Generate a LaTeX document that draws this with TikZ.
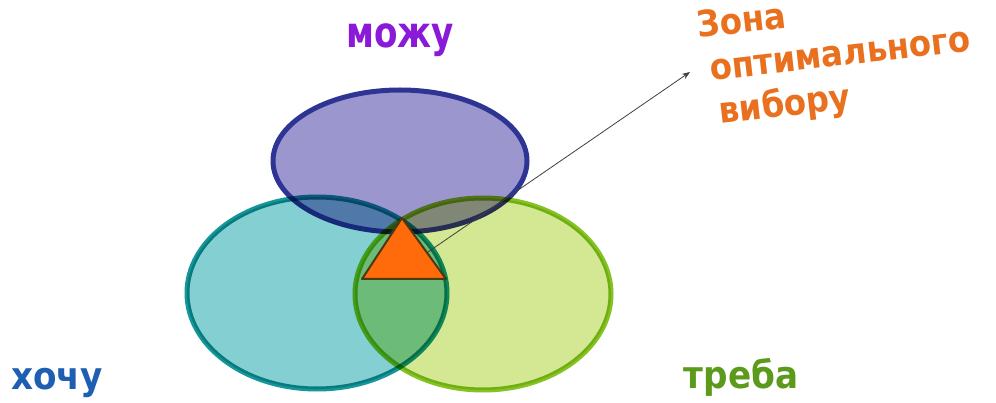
\documentclass[tikz,border=0pt]{standalone}
\usepackage{fontspec}
\usepackage{graphicx}
\setmainfont{DejaVu Sans}
\newfontfamily\heavy{DejaVu Sans Condensed}[BoldFont={DejaVu Sans Condensed Bold}]
\usetikzlibrary{arrows.meta}
\definecolor{topfill}{HTML}{9C96CE}
\definecolor{topline}{HTML}{2E3494}
\definecolor{leftfill}{HTML}{6EC7CB}
\definecolor{leftline}{HTML}{13979A}
\definecolor{rightfill}{HTML}{CAE178}
\definecolor{rightline}{HTML}{86C222}
\definecolor{triorange}{HTML}{FF6A0A}
\definecolor{triline}{HTML}{4A3A10}
\definecolor{zonaorange}{HTML}{E8701E}
\definecolor{mozhu}{HTML}{8A1AD8}
\definecolor{khochu}{HTML}{1E5FB2}
\definecolor{treba}{HTML}{5C9A1C}
\tikzset{
  vennring/.style={line width=5pt},
  lbl/.style={font=\heavy\bfseries\fontsize{38}{38}\selectfont, inner sep=0pt, anchor=base},
  zonatext/.style={font=\heavy\bfseries\fontsize{36}{44}\selectfont, text=zonaorange, inner sep=0pt, anchor=north west, align=left, rotate=6.5},
}
\begin{document}
\begin{tikzpicture}[x=1pt,y=-1pt]
\useasboundingbox (0,0) rectangle (996,403);
\fill[white] (0,0) rectangle (996,403);
% ellipses
\draw[vennring, draw=topline, fill=topfill] (400,161) ellipse [x radius=127, y radius=71];
\begin{scope}[blend mode=multiply]
\draw[vennring, draw=leftline, fill=leftfill, fill opacity=0.85] (317,293) ellipse [x radius=130, y radius=96];
\draw[vennring, draw=rightline, fill=rightfill, fill opacity=0.8] (483,294) ellipse [x radius=128, y radius=96];
\end{scope}
% triangle
\coordinate (ta) at (402,218);
\coordinate (tb) at (362,279);
\coordinate (tc) at (446,279);
\filldraw[fill=triorange, draw=triline, line width=2pt, line join=round] (ta) -- (tb) -- (tc) -- cycle;
% labels
\node[lbl, text=mozhu] (mozhu) at (400,48) {\scalebox{1}[1.12]{можу}};
\node[lbl, text=khochu] (khochu) at (57,389) {хочу};
\node[lbl, text=treba] (treba) at (741,388) {треба};
\node[zonatext] (zona) at (695,11) {Зона\\\hspace*{8pt}оптимального\\\hspace*{12pt}вибору};
% arrow
\coordinate (start) at (428,252);
\coordinate (tip) at (690,72);
\draw[-{Stealth[length=8pt,width=6pt]}, line width=0.8pt, black!75] (start) -- (tip);
\end{tikzpicture}
\end{document}
